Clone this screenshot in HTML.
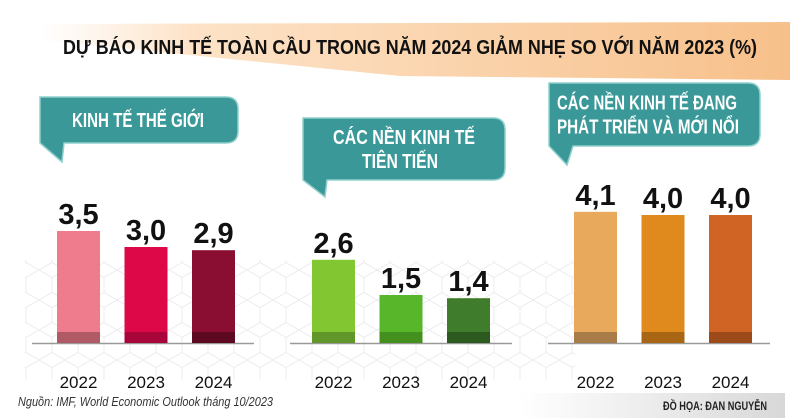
<!DOCTYPE html>
<html><head><meta charset="utf-8"><style>
body{margin:0;width:800px;height:418px;overflow:hidden;background:#fff;font-family:"Liberation Sans",sans-serif}
svg{display:block}
</style></head><body>
<svg width="800" height="418">
<defs>
<linearGradient id="tg" x1="0" x2="1"><stop offset="0" stop-color="#fde6cf" stop-opacity="0"/><stop offset="0.2" stop-color="#fde3c8"/><stop offset="1" stop-color="#f7c08a"/></linearGradient>
<linearGradient id="fg" x1="0" x2="1"><stop offset="0" stop-color="#fff"/><stop offset="1" stop-color="#d8d8d8"/></linearGradient>
<pattern id="hex" width="26" height="30" patternUnits="userSpaceOnUse"><path d="M0 7.5L13 0L26 7.5V22.5L13 30L0 22.5Z" fill="none" stroke="#c8c8d4" stroke-width="0.8"/></pattern>
</defs>
<path d="M40 24 L790 22 L790 80 L400 76 L40 40 Z" fill="url(#tg)"/>
<rect x="25" y="260" width="550" height="120" fill="url(#hex)" opacity="0.4"/>
<text x="63" y="54" textLength="694" lengthAdjust="spacingAndGlyphs" font-size="20" font-weight="bold" fill="#111">DỰ BÁO KINH TẾ TOÀN CẦU TRONG NĂM 2024 GIẢM NHẸ SO VỚI NĂM 2023 (%)</text>
<g id="bubbles"></g>
<g id="bars"></g>
<text x="18" y="406" textLength="255" lengthAdjust="spacingAndGlyphs" font-size="13" font-style="italic" fill="#333">Nguồn: IMF, World Economic Outlook tháng 10/2023</text>
<rect x="520" y="393" width="265" height="25" fill="url(#fg)"/>
<text x="663" y="410" textLength="104" lengthAdjust="spacingAndGlyphs" font-size="12" font-weight="bold" fill="#222">ĐỒ HỌA: ĐAN NGUYỄN</text>
</svg>
<script>
const years=["2022","2023","2024"];
const worldValues=[3.5,3.0,2.9];
const advancedValues=[2.6,1.5,1.4];
const emergingValues=[4.1,4.0,4.0];
const valueLabels=[["3,5","3,0","2,9"],["2,6","1,5","1,4"],["4,1","4,0","4,0"]];
const NS="http://www.w3.org/2000/svg";
function mk(t,a,p){const e=document.createElementNS(NS,t);for(const k in a)e.setAttribute(k,a[k]);p.appendChild(e);return e;}
const base=343,unit=32;
function yScale(v){return base-v*unit;}
const panels=[
 {vals:worldValues,x0:57,line:[32,254],cols:["#ef7c8c","#dc0848","#8a0e32"],dark:["#b05a66","#a8063a","#5c0820"]},
 {vals:advancedValues,x0:312,line:[290,512],cols:["#82c632","#58b62a","#3f7d2c"],dark:["#60962a","#43901f","#2c5a1e"]},
 {vals:emergingValues,x0:574,line:[548,770],cols:["#e8a95c","#e08a1e","#d06424"],dark:["#a87c48","#a86514","#9c4a1a"]}
];
const gB=document.getElementById('bars');
panels.forEach((p,pi)=>{
 const l=mk('line',{x1:p.line[0],x2:p.line[1],y1:base+0.5,y2:base+0.5,stroke:'#999','stroke-width':1.5},gB);
 
 
 p.vals.forEach((v,i)=>{
  const x=p.x0+i*67.5,w=43,top=yScale(v);
  const r=mk('rect',{x:x,y:top,width:w,height:base-top,fill:p.cols[i]},gB);
  
  
  const d=mk('rect',{x:x,y:base-11,width:w,height:11,fill:p.dark[i]},gB);
  
  
  const t=mk('text',{x:x+w/2,y:top-7,'text-anchor':'middle','font-size':29,'font-weight':'bold',fill:'#111'},gB);
  t.textContent=valueLabels[pi][i];
  
  
  const y=mk('text',{x:x+w/2,y:388,'text-anchor':'middle','font-size':17,fill:'#111'},gB);
  y.textContent=years[i];
  
  
 });
});
const bubbles=[
 {x:40,y:97,w:198,h:46,tail:[62,162],lines:["KINH TẾ THẾ GIỚI"],tx:[72],tw:[132]},
 {x:303,y:118,w:202,h:62,tail:[325,197],lines:["CÁC NỀN KINH TẾ","TIÊN TIẾN"],tx:[333,362],tw:[142,76]},
 {x:549,y:83,w:211,h:63,tail:[567,165],lines:["CÁC NỀN KINH TẾ ĐANG","PHÁT TRIỂN VÀ MỚI NỔI"],tx:[557,557],tw:[180,182]}
];
const gU=document.getElementById('bubbles');
bubbles.forEach((b,bi)=>{
 const r=12,x2=b.x+b.w,y2=b.y+b.h;
 const d=`M${b.x} ${b.y}H${x2-r}Q${x2} ${b.y} ${x2} ${b.y+r}V${y2-r}Q${x2} ${y2} ${x2-r} ${y2}H${b.x+24}L${b.tail[0]} ${b.tail[1]}L${b.x} ${y2}Z`;
 const p=mk('path',{d:d,fill:'#3b9898',stroke:'#8fd0cc','stroke-width':1.5},gU);
 
 
 b.lines.forEach((s,li)=>{
  const cy=b.y+b.h/2+(li-(b.lines.length-1)/2)*24+7;
  const t=mk('text',{x:b.tx[li],y:cy,textLength:b.tw[li],lengthAdjust:'spacingAndGlyphs','font-size':20,'font-weight':'bold',fill:'#fff'},gU);
  t.textContent=s;
  
  
 });
});
</script>
</body></html>
